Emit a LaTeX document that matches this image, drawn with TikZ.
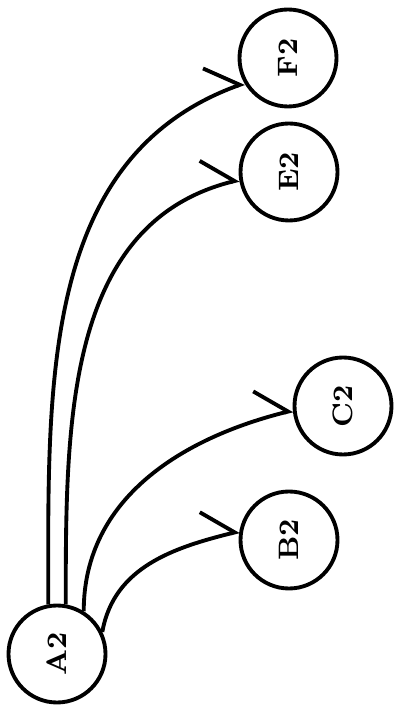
\documentclass[tikz,border=0pt]{standalone}
\usepackage{tikz}
\usetikzlibrary{arrows.meta}

\begin{document}
\begin{tikzpicture}[
  vertex/.style={draw, circle, line width=1.1pt, minimum size=0.97cm, inner sep=0pt,
    font=\fontsize{8}{9}\selectfont\bfseries},
  link/.style={line width=1.1pt, -{Straight Barb[left, length=0.29cm, width=0.56cm, line width=1.1pt]}}
]
\useasboundingbox (0,0) rectangle (3.95,7.1);

% --- Nodes (labels read upwards) ---
\node[vertex] (a2) at (0.57,0.56) {\rotatebox{90}{A2}};
\node[vertex] (b2) at (2.89,1.70) {\rotatebox{90}{B2}};
\node[vertex] (c2) at (3.43,3.04) {\rotatebox{90}{C2}};
\node[vertex] (e2) at (2.89,5.38) {\rotatebox{90}{E2}};
\node[vertex] (f2) at (2.88,6.52) {\rotatebox{90}{F2}};

% --- Edges from A2 ---
\draw[link] (a2.100) to[out=90, in=200, looseness=1.0] (f2.210);
\draw[link] (a2.80) to[out=90, in=194, looseness=1.0] (e2.189);
\draw[link] (a2.58) to[out=90, in=194, looseness=1.0] (c2.185);
\draw[link] (a2.26) to[out=80, in=194, looseness=1.0] (b2.170);

\end{tikzpicture}
\end{document}
